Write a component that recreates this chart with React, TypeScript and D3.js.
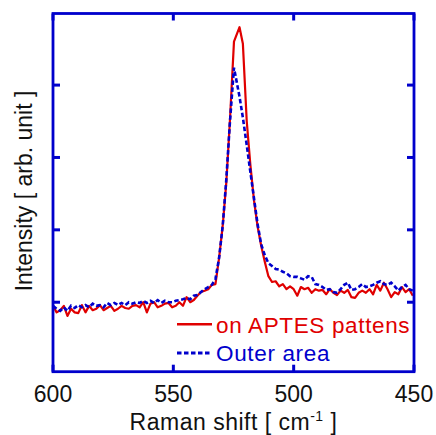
import React from "react";
import * as d3 from "d3";

// Raman shift (cm^-1), shared by both spectra
const ramanShift: number[] = [
  600, 598.5, 597, 595.5, 594, 592.5, 591, 589.5, 588, 586.5,
  585, 583.5, 582, 580.5, 579, 577.5, 576, 574.5, 573, 571.5,
  570, 568.5, 567, 565.5, 564, 562.5, 561, 559.5, 558, 556.5,
  555, 553.5, 552, 550.5, 549, 547.5, 546, 544.5, 543, 541.5,
  540, 538.5, 537, 535.5, 534, 532.5, 531, 529.5, 528,
  526.5, 524.8, 522.5, 521.1, 519.5,
  518, 516.5, 515, 513.5, 512, 510.5, 509, 507.5, 506, 504.5,
  503, 501.5, 500, 498.5, 497, 495.5, 494, 492.5, 491, 489.5,
  488, 486.5, 485, 483.5, 482, 480.5, 479, 477.5, 476, 474.5,
  473, 471.5, 470, 468.5, 467, 465.5, 464, 462.5, 461, 459.5,
  458, 456.5, 455, 453.5, 452, 450.5,
];

// Intensity (arb. unit) on APTES pattens
const aptesIntensity: number[] = [
  95, 86, 89, 95, 81, 91, 86, 85, 96, 86,
  95, 89, 91, 96, 89, 92, 95, 88, 91, 95,
  92, 91, 95, 96, 93, 100, 86, 98, 100, 93,
  95, 98, 99, 93, 95, 100, 95, 107, 100, 103,
  109, 114, 116, 118, 124, 125, 161, 205, 265,
  350, 460, 480, 457, 350,
  290, 241, 205, 178, 156, 136, 128, 129, 122, 125,
  118, 122, 118, 109, 121, 118, 120, 113, 118, 116,
  117, 111, 118, 113, 110, 116, 113, 117, 107, 106,
  113, 116, 113, 118, 111, 124, 116, 127, 118, 107,
  114, 111, 121, 114, 118, 109,
];

// Intensity (arb. unit) on the outer area
const outerIntensity: number[] = [
  95, 91, 88, 93, 88, 95, 92, 96, 93, 96,
  93, 98, 95, 96, 93, 99, 96, 99, 96, 99,
  96, 100, 98, 100, 99, 102, 99, 102, 99, 103,
  99, 102, 100, 100, 102, 103, 104, 106, 104, 109,
  110, 114, 118, 121, 124, 132, 161, 205, 269,
  348, 424, 384, 355, 317,
  280, 244, 208, 180, 165, 154, 150, 146, 145, 142,
  140, 136, 135, 135, 133, 131, 136, 135, 125, 124,
  121, 117, 118, 114, 113, 118, 124, 127, 117, 118,
  121, 125, 121, 122, 124, 127, 129, 125, 124, 127,
  122, 116, 121, 124, 118, 116,
];

const xTicks: number[] = [600, 550, 500, 450];
const yTicks: number[] = [100, 200, 300, 400];
const seriesNames: string[] = ["on APTES pattens", "Outer area"];

const W = 436;
const H = 435;
const left = 53;
const right = 414;
const top = 13.5;
const bottom = 371.7;
const RED = "#e00000";
const BLUE = "#0000cc";
const FONT = "'Liberation Sans', Arial, Helvetica, sans-serif";

export default function App() {
  const x = d3.scaleLinear().domain([600, 450]).range([left, right]);
  const y = d3.scaleLinear().domain([3.6, 499.6]).range([372, 13]);
  const idx = d3.range(ramanShift.length);
  const line = (vals: number[]) =>
    d3
      .line<number>()
      .x((i) => x(ramanShift[i]))
      .y((i) => y(vals[i]))(idx) || "";

  const tickLen = 7;
  return (
    <svg
      width={W}
      height={H}
      style={{ position: "absolute", left: 0, top: 0 }}
      fontFamily={FONT}
    >
      <defs>
        <clipPath id="plot">
          <rect x={left} y={top} width={right - left} height={bottom - top} />
        </clipPath>
      </defs>
      <rect width={W} height={H} fill="white" />
      <g clipPath="url(#plot)">
        <path d={line(aptesIntensity)} fill="none" stroke={RED} strokeWidth={2.2} strokeLinejoin="round" />
        <path d={line(outerIntensity)} fill="none" stroke={BLUE} strokeWidth={2.6} strokeDasharray="4.5,2.5" />
      </g>
      {/* ticks */}
      {xTicks.map((t) => (
        <g key={"xt" + t}>
          <line x1={x(t)} x2={x(t)} y1={bottom} y2={bottom - tickLen} stroke={BLUE} strokeWidth={3} />
          <line x1={x(t)} x2={x(t)} y1={top} y2={top + tickLen} stroke={BLUE} strokeWidth={3} />
          <text x={x(t)} y={401.7} textAnchor="middle" fontSize={23} fill="#111">
            {t}
          </text>
        </g>
      ))}
      {yTicks.map((t) => (
        <g key={"yt" + t}>
          <line x1={left} x2={left + tickLen} y1={y(t)} y2={y(t)} stroke={BLUE} strokeWidth={3} />
          <line x1={right} x2={right - tickLen} y1={y(t)} y2={y(t)} stroke={BLUE} strokeWidth={3} />
        </g>
      ))}
      <rect x={left} y={top} width={right - left} height={bottom - top} fill="none" stroke={BLUE} strokeWidth={2.8} />
      {/* legend */}
      <line x1={177} x2={212} y1={324.3} y2={324.3} stroke={RED} strokeWidth={2.6} />
      <text x={216} y={333.3} fontSize={22.5} letterSpacing={0.65} fill={RED}>
        {seriesNames[0]}
      </text>
      <line x1={177} x2={212} y1={353} y2={353} stroke={BLUE} strokeWidth={2.8} strokeDasharray="4.5,2.5" />
      <text x={216} y={360.5} fontSize={22.5} letterSpacing={0.65} fill={BLUE}>
        {seriesNames[1]}
      </text>
      {/* axis titles */}
      <text x={(left + right) / 2} y={429.5} textAnchor="middle" fontSize={23} letterSpacing={0.5} fill="#111">
        Raman shift [ cm
        <tspan fontSize={14} dy={-9}>-1</tspan>
        <tspan dy={9}> ]</tspan>
      </text>
      <text
        transform={`translate(31.5, 191) rotate(-90)`}
        textAnchor="middle"
        fontSize={23}
        fill="#111"
      >
        Intensity [ arb. unit ]
      </text>
    </svg>
  );
}
